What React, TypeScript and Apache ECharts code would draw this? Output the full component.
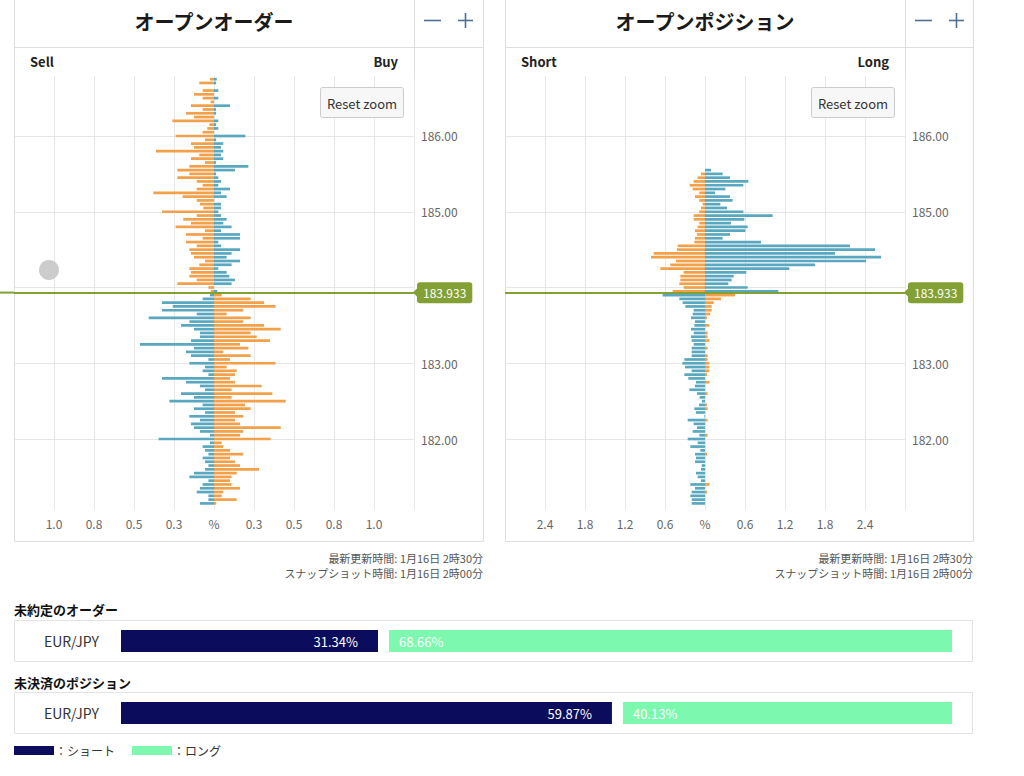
import React, { useEffect, useRef } from "react";
import * as echarts from "echarts";

// ---------- data ----------
const CURRENT_PRICE = 183.933;
const PRICE_STEP = 0.05;
const ORDER_TOP_PRICE = 186.75; // first row of the order book ladder
const POSITION_TOP_PRICE = 185.55; // first row of the position book ladder

// Open orders (% of total), left side / right side, one value per price row (top -> bottom)
const orderLeft = [
  0.025, 0.092, 0, 0.071, 0.125, 0.071, 0.021, 0.144, 0.071, 0.175, 0.125, 0.26, 0.029, 0.042, 0.071, 0.24,
  0.056, 0.144, 0.125, 0.363, 0.092, 0.144, 0.056, 0.154, 0.229, 0.154, 0.229, 0.108, 0.071, 0.108, 0.379, 0.196,
  0.108, 0.088, 0.067, 0.325, 0.108, 0.192, 0.144, 0.24, 0.056, 0.175, 0.071, 0.175, 0.108, 0.154, 0.144, 0.125,
  0.056, 0.092, 0.154, 0.144, 0.154, 0.108, 0.229, 0.035, 0.02,
  0.025, 0.071, 0.325, 0.258, 0.325, 0.108, 0.408, 0.154, 0.206, 0.125, 0.088, 0.088, 0.144, 0.463, 0.125, 0.175,
  0.144, 0.035, 0.154, 0.056, 0.071, 0.035, 0.325, 0.175, 0.088, 0.056, 0.206, 0.125, 0.279,
  0.071, 0.125, 0.056, 0.154, 0.088, 0.144, 0.125, 0.088, 0.025, 0.346, 0.025, 0.071, 0.056, 0.035, 0.071, 0.056,
  0.035, 0.056, 0.125, 0.154, 0.035, 0.071, 0.088, 0.108, 0.035, 0.035, 0.088,
];
const orderRight = [
  0.017, 0.013, 0, 0.027, 0, 0.027, 0, 0.1, 0.013, 0.013, 0, 0.027, 0.013, 0.027, 0, 0.196,
  0.013, 0.058, 0.044, 0.058, 0.044, 0.058, 0.013, 0.215, 0.131, 0.013, 0.027, 0.044, 0.027, 0.1, 0.044, 0.079,
  0, 0.044, 0.044, 0.027, 0.044, 0.079, 0.058, 0.11, 0.044, 0.163, 0.163, 0.027, 0.044, 0.163, 0.11, 0.079,
  0.163, 0.11, 0.027, 0.079, 0.096, 0.131, 0.11, 0, 0.02,
  0.048, 0.229, 0.313, 0.385, 0.183, 0.079, 0.229, 0.183, 0.313, 0.417, 0.229, 0.267, 0.35, 0.163, 0.215, 0.058,
  0.229, 0.1, 0.385, 0.079, 0.142, 0.131, 0.1, 0.131, 0.298, 0.11, 0.365, 0.11, 0.448,
  0.194, 0.229, 0.131, 0.183, 0.131, 0.163, 0.417, 0.183, 0.163, 0.354, 0.048, 0.058, 0.1, 0.183, 0.1, 0.131,
  0.163, 0.281, 0.142, 0.11, 0.1, 0.11, 0.163, 0.058, 0.048, 0.142, 0.013,
];

// Open positions (% of total), left side / right side
const positionLeft = [
  0, 0.06, 0.11, 0.17, 0.23, 0.185, 0.085, 0.15, 0.085, 0.035, 0.06, 0.085, 0.17, 0.17, 0.085, 0.11,
  0.15, 0.12, 0.15, 0.16, 0.41, 0.42, 0.77, 0.81, 0.435, 0.52, 0.67, 0.32, 0.37, 0.37, 0.385, 0.32, 0.485,
  0.635, 0.385, 0.335, 0.295, 0.17, 0.185, 0.21, 0.15, 0.16, 0.21, 0.17, 0.21, 0.2, 0.17, 0.2, 0.2,
  0.2, 0.31, 0.34, 0.3, 0.2, 0.31, 0.25, 0.135, 0.15, 0.235, 0.12, 0.08, 0.045, 0.09, 0.16, 0.135,
  0.01, 0.26, 0.17, 0.12, 0.185, 0.085, 0.26, 0.11, 0.22, 0.07, 0.15, 0.135, 0.15, 0.05, 0.06, 0.135,
  0.11, 0.06, 0.22, 0.15, 0.2, 0.22, 0.2, 0.2,
];
const positionRight = [
  0.09, 0.265, 0.375, 0.65, 0.575, 0.305, 0.15, 0.375, 0.415, 0.23, 0.33, 0.575, 1.015, 0.59, 0.39, 0.64,
  0.605, 0.375, 0.265, 0.84, 2.175, 2.55, 1.95, 2.64, 2.415, 1.65, 1.265, 0.62, 0.43, 0.4, 0.35, 0.64, 1.1,
  0.45, 0.24, 0.13, 0.1, 0.1, 0.08, 0.03, 0, 0.065, 0, 0.04, 0.04, 0.065, 0, 0.04, 0,
  0.04, 0.04, 0.065, 0.065, 0.065, 0.03, 0, 0.065, 0, 0, 0.04, 0, 0, 0.03, 0.04, 0,
  0, 0.04, 0, 0, 0, 0.04, 0, 0, 0, 0, 0.03, 0, 0, 0, 0, 0,
  0, 0, 0.065, 0, 0.03, 0, 0, 0,
];

const priceGridValues = [182, 183, 184, 185, 186];
const priceLabelValues = [182, 183, 185, 186];

const summaryPair = ["EUR/JPY"];
const ordersShortPct = [31.34];
const ordersLongPct = [68.66];
const positionsShortPct = [59.87];
const positionsLongPct = [40.13];

const titles = ["オープンオーダー", "オープンポジション"];
const sideLabels = [["Sell", "Buy"], ["Short", "Long"]];
const updatedText = "最新更新時間: 1月16日 2時30分";
const snapshotText = "スナップショット時間: 1月16日 2時00分";

// ---------- styles ----------
const ORANGE = "#f2a04a";
const BLUE = "#5aa8c0";
const GREEN = "#82a034";
const NAVY = "#0b0c5c";
const MINT = "#7cf9af";
const GRIDC = "#e6e6e6";
const BORDER = "#dedede";
const BTN = "#4d6f98";
const FONT = '"Noto Sans CJK JP", "Noto Sans", sans-serif';
const Y_MIN = 181.063;
const Y_MAX = 186.792;
const SUMMARY_GAP = 1.342; // spacer between the two stacked summary bars

function ladder(top: number, n: number) {
  return Array.from({ length: n }, (_, i) => Math.round((top - i * PRICE_STEP) * 100) / 100);
}

function splitSides(prices: number[], left: number[], right: number[]) {
  const orange: number[][] = [];
  const blue: number[][] = [];
  prices.forEach((p, i) => {
    if (p > CURRENT_PRICE) {
      orange.push([-left[i], p]);
      blue.push([right[i], p]);
    } else {
      blue.push([-left[i], p]);
      orange.push([right[i], p]);
    }
  });
  return { orange, blue };
}

const barRender = (color: string) => (params: any, api: any) => {
  const v = api.value(0) as number;
  const p = api.value(1) as number;
  if (!v) return null;
  const a = api.coord([0, p]);
  const b = api.coord([v, p]);
  const h = 2.7;
  return {
    type: "rect",
    shape: { x: Math.min(a[0], b[0]), y: a[1] - h / 2, width: Math.abs(b[0] - a[0]), height: h },
    style: { fill: color },
  };
};

function txt(x: number, y: number, text: string, font: string, fill: string, align = "left", z = 5) {
  return {
    type: "text",
    silent: true,
    z,
    x,
    y,
    style: { text, font, fill, textAlign: align, textVerticalAlign: "middle", align, verticalAlign: "middle" },
  };
}
function ln(x1: number, y1: number, x2: number, y2: number, stroke: string, lineWidth = 1, z = 1) {
  return { type: "line", silent: true, z, shape: { x1, y1, x2, y2 }, style: { stroke, lineWidth } };
}

function buildOption() {
  const orderPrices = ladder(ORDER_TOP_PRICE, orderLeft.length);
  const positionPrices = ladder(POSITION_TOP_PRICE, positionLeft.length);
  const ord = splitSides(orderPrices, orderLeft, orderRight);
  const pos = splitSides(positionPrices, positionLeft, positionRight);

  const xAxisBook = (gridIndex: number, lim: number, interval: number) => ({
    type: "value",
    gridIndex,
    min: -lim,
    max: lim,
    interval,
    axisLine: { show: false },
    axisTick: { show: false },
    splitLine: { show: true, lineStyle: { color: GRIDC, width: 1 } },
    axisLabel: {
      color: "#666",
      fontSize: 12,
      margin: 7,
      fontFamily: FONT,
      formatter: (v: number) => {
        const a = Math.abs(v);
        if (a < 1e-9) return "%";
        if (a > lim - interval / 2) return "";
        return a.toFixed(1);
      },
    },
  });
  const yAxisBook = (gridIndex: number) => ({
    type: "value",
    gridIndex,
    position: "right",
    min: Y_MIN,
    max: Y_MAX,
    axisLine: { show: false },
    axisTick: { show: false, customValues: priceGridValues },
    splitLine: { show: true, lineStyle: { color: GRIDC, width: 1 } },
    axisLabel: {
      customValues: priceLabelValues,
      color: "#666",
      fontSize: 12,
      margin: 7,
      fontFamily: FONT,
      formatter: (v: number) => v.toFixed(2),
    },
  });

  const priceMarkLine = {
    silent: true,
    symbol: ["none", "none"],
    data: [{ yAxis: CURRENT_PRICE }],
    lineStyle: { color: GREEN, width: 2, type: "solid" },
    label: {
      show: true,
      position: "end",
      distance: 3,
      formatter: CURRENT_PRICE.toFixed(3),
      color: "#fff",
      backgroundColor: GREEN,
      padding: [5, 6, 4, 6],
      borderRadius: 3,
      fontSize: 12,
      fontFamily: FONT,
    },
  };

  const bookSeries = (idx: number, d: { orange: number[][]; blue: number[][] }) => [
    { type: "custom", xAxisIndex: idx, yAxisIndex: idx, encode: { x: 0, y: 1 }, silent: true, renderItem: barRender(ORANGE), data: d.orange },
    { type: "custom", xAxisIndex: idx, yAxisIndex: idx, encode: { x: 0, y: 1 }, silent: true, renderItem: barRender(BLUE), data: d.blue },
    { type: "line", xAxisIndex: idx, yAxisIndex: idx, data: [], silent: true, markLine: priceMarkLine },
  ];

  const summarySeries = (idx: number, shortV: number[], longV: number[]) => [
    {
      type: "bar", xAxisIndex: idx, yAxisIndex: idx, stack: "s" + idx, barWidth: 22, silent: true,
      data: shortV, itemStyle: { color: NAVY },
      label: { show: true, position: "insideRight", distance: 20, color: "#fff", fontSize: 13, fontFamily: FONT, formatter: (p: any) => p.value.toFixed(2) + "%" },
    },
    {
      type: "bar", xAxisIndex: idx, yAxisIndex: idx, stack: "s" + idx, barWidth: 22, silent: true,
      data: shortV.map(() => SUMMARY_GAP), itemStyle: { color: "rgba(0,0,0,0)" },
    },
    {
      type: "bar", xAxisIndex: idx, yAxisIndex: idx, stack: "s" + idx, barWidth: 22, silent: true,
      data: longV, itemStyle: { color: MINT },
      label: { show: true, position: "insideLeft", distance: 10, color: "#ffffff", fontSize: 13, fontFamily: FONT, formatter: (p: any) => p.value.toFixed(2) + "%" },
    },
  ];

  const summaryX = (gridIndex: number) => ({ type: "value", gridIndex, min: 0, max: 100 + SUMMARY_GAP, show: false });
  const summaryY = (gridIndex: number) => ({
    type: "category",
    gridIndex,
    data: summaryPair,
    axisLine: { show: false },
    axisTick: { show: false },
    axisLabel: { color: "#333", fontSize: 14, margin: 22, fontFamily: FONT },
  });

  const graphics: any[] = [];
  const panels = [
    { x: 14, w: 469, sep: 414 },
    { x: 505, w: 468, sep: 905 },
  ];
  panels.forEach((p, i) => {
    graphics.push({ type: "rect", silent: true, z: 1, shape: { x: p.x + 0.5, y: -0.5, width: p.w, height: 542 }, style: { fill: "none", stroke: BORDER, lineWidth: 1 } });
    graphics.push(ln(p.x, 47.5, p.x + p.w, 47.5, BORDER));
    graphics.push(ln(p.sep + 0.5, 0, p.sep + 0.5, 77, BORDER));
    graphics.push(txt((p.x + p.sep) / 2, 21, titles[i], `bold 20px ${FONT}`, "#1a1a1a", "center"));
    // minus / plus buttons
    graphics.push(ln(p.sep + 10, 20.5, p.sep + 27, 20.5, BTN, 1.6, 5));
    graphics.push(ln(p.sep + 44, 20.5, p.sep + 59, 20.5, BTN, 1.6, 5));
    graphics.push(ln(p.sep + 51.5, 13, p.sep + 51.5, 28, BTN, 1.6, 5));
    graphics.push(txt(p.x + 16, 61, sideLabels[i][0], `bold 13px ${FONT}`, "#222", "left"));
    graphics.push(txt(p.sep - 16, 61, sideLabels[i][1], `bold 13px ${FONT}`, "#222", "right"));
    // reset zoom button
    graphics.push({ type: "rect", silent: true, z: 10, shape: { x: p.sep - 93.5, y: 87.5, width: 83, height: 30, r: 2 }, style: { fill: "#f7f7f7", stroke: "#cccccc", lineWidth: 1 } });
    graphics.push(txt(p.sep - 52, 103, "Reset zoom", `13px ${FONT}`, "#333", "center", 11));
    // timestamps
    graphics.push(txt(p.x + p.w, 558, updatedText, `11px ${FONT}`, "#555", "right"));
    graphics.push(txt(p.x + p.w, 573, snapshotText, `11px ${FONT}`, "#555", "right"));
  });
  graphics.push({ type: "circle", silent: true, z: 6, shape: { cx: 49, cy: 270, r: 10 }, style: { fill: "#cccccc" } });

  // summary section
  graphics.push(txt(14, 609, "未約定のオーダー", `bold 13px ${FONT}`, "#111", "left"));
  graphics.push({ type: "rect", silent: true, z: 1, shape: { x: 14.5, y: 620.5, width: 958, height: 41 }, style: { fill: "none", stroke: "#e3e3e3", lineWidth: 1 } });
  graphics.push(txt(14, 682, "未決済のポジション", `bold 13px ${FONT}`, "#111", "left"));
  graphics.push({ type: "rect", silent: true, z: 1, shape: { x: 14.5, y: 692.5, width: 958, height: 41 }, style: { fill: "none", stroke: "#e3e3e3", lineWidth: 1 } });
  graphics.push({ type: "rect", silent: true, z: 1, shape: { x: 14, y: 746, width: 40, height: 9 }, style: { fill: NAVY } });
  graphics.push(txt(55, 750.5, "：ショート", `12px ${FONT}`, "#333", "left"));
  graphics.push({ type: "rect", silent: true, z: 1, shape: { x: 132, y: 746, width: 40, height: 9 }, style: { fill: MINT } });
  graphics.push(txt(173, 750.5, "：ロング", `12px ${FONT}`, "#333", "left"));

  return {
    animation: false,
    backgroundColor: "#ffffff",
    textStyle: { fontFamily: FONT },
    grid: [
      { left: 14, top: 76, width: 400, height: 434 },
      { left: 505, top: 76, width: 400, height: 434 },
      { left: 121, top: 630, width: 831, height: 22 },
      { left: 121, top: 702, width: 831, height: 22 },
    ],
    xAxis: [xAxisBook(0, 1.25, 0.25), xAxisBook(1, 3, 0.6), summaryX(2), summaryX(3)],
    yAxis: [yAxisBook(0), yAxisBook(1), summaryY(2), summaryY(3)],
    series: [
      ...bookSeries(0, ord),
      ...bookSeries(1, pos),
      ...summarySeries(2, ordersShortPct, ordersLongPct),
      ...summarySeries(3, positionsShortPct, positionsLongPct),
    ],
    graphic: { elements: graphics },
  };
}

export default function App() {
  const ref = useRef<HTMLDivElement>(null);
  useEffect(() => {
    if (!ref.current) return;
    const chart = echarts.init(ref.current, null, { renderer: "svg" });
    const option: any = buildOption();
    chart.setOption(option);
    // extend the current-price line to the page's left edge and add the label pointers (positions from the axis scale)
    const py = chart.convertToPixel({ yAxisIndex: 0 } as any, CURRENT_PRICE) as unknown as number;
    if (typeof py === "number" && isFinite(py)) {
      option.graphic.elements.push(ln(0, py, 14, py, GREEN, 2, 5));
      [414, 905].forEach((sx) => {
        option.graphic.elements.push({
          type: "polygon", silent: true, z: 20,
          shape: { points: [[sx - 1, py], [sx + 4, py - 5], [sx + 4, py + 5]] },
          style: { fill: GREEN },
        });
      });
      chart.setOption({ graphic: option.graphic });
    }
    return () => chart.dispose();
  }, []);
  return <div ref={ref} style={{ position: "absolute", left: 0, top: 0, width: 1024, height: 776 }} />;
}
